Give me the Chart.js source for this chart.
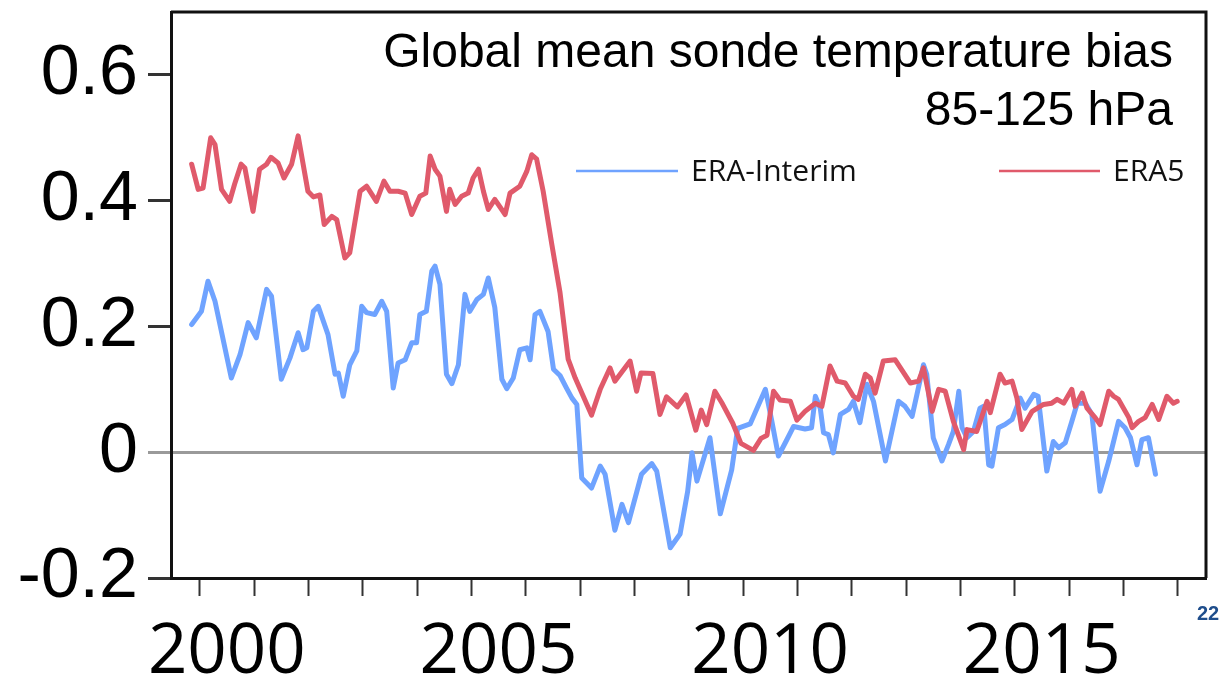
<!DOCTYPE html>
<html>
<head>
<meta charset="utf-8">
<script src="https://cdn.jsdelivr.net/npm/chart.js@4.4.1/dist/chart.umd.min.js"></script>
<style>
  html, body { margin: 0; padding: 0; background: #fff; }
  canvas { display: block; }
</style>
</head>
<body>
<canvas id="chart" width="1221" height="677"></canvas>
<script>
// values (decimal year, K)
const era5Years = [1999.85, 1999.97, 2000.06, 2000.20, 2000.28, 2000.40, 2000.55, 2000.64, 2000.76, 2000.83,
  2000.98, 2001.10, 2001.23, 2001.31, 2001.44, 2001.55, 2001.69, 2001.81, 2001.99, 2002.09,
  2002.21, 2002.29, 2002.43, 2002.52, 2002.67, 2002.76, 2002.95, 2003.07, 2003.25, 2003.39,
  2003.50, 2003.65, 2003.78, 2003.90, 2004.05, 2004.16, 2004.24, 2004.33, 2004.42, 2004.54,
  2004.60, 2004.70, 2004.82, 2004.94, 2005.03, 2005.13, 2005.22, 2005.31, 2005.43, 2005.62,
  2005.71, 2005.89, 2006.02, 2006.11, 2006.20, 2006.32, 2006.48, 2006.63, 2006.78, 2006.91,
  2007.21, 2007.37, 2007.55, 2007.64, 2007.92, 2008.04, 2008.12, 2008.34, 2008.47, 2008.59,
  2008.79, 2008.95, 2009.13, 2009.23, 2009.33, 2009.48, 2009.62, 2009.81, 2009.96, 2010.19,
  2010.33, 2010.44, 2010.56, 2010.68, 2010.87, 2010.99, 2011.14, 2011.33, 2011.45, 2011.60,
  2011.73, 2011.88, 2012.03, 2012.12, 2012.25, 2012.34, 2012.43, 2012.58, 2012.80, 2013.08,
  2013.23, 2013.32, 2013.48, 2013.60, 2013.72, 2013.87, 2014.06, 2014.12, 2014.30, 2014.49,
  2014.55, 2014.73, 2014.82, 2014.95, 2015.04, 2015.13, 2015.32, 2015.53, 2015.68, 2015.78,
  2015.90, 2016.05, 2016.11, 2016.24, 2016.33, 2016.48, 2016.57, 2016.73, 2016.82, 2016.91,
  2017.10, 2017.16, 2017.28, 2017.40, 2017.53, 2017.65, 2017.80, 2017.92, 2017.99];
const era5Values = [0.458, 0.418, 0.420, 0.500, 0.489, 0.418, 0.399, 0.426, 0.458, 0.452,
  0.383, 0.450, 0.458, 0.469, 0.460, 0.436, 0.458, 0.503, 0.415, 0.406,
  0.409, 0.362, 0.375, 0.370, 0.309, 0.317, 0.415, 0.423, 0.399, 0.431,
  0.415, 0.415, 0.412, 0.378, 0.407, 0.412, 0.471, 0.450, 0.439, 0.383,
  0.418, 0.394, 0.407, 0.412, 0.436, 0.450, 0.415, 0.386, 0.402, 0.378,
  0.412, 0.423, 0.447, 0.473, 0.466, 0.415, 0.330, 0.254, 0.148, 0.118,
  0.059, 0.100, 0.134, 0.113, 0.145, 0.097, 0.126, 0.125, 0.060, 0.088,
  0.072, 0.091, 0.035, 0.067, 0.044, 0.097, 0.077, 0.046, 0.014, 0.003,
  0.022, 0.027, 0.097, 0.083, 0.081, 0.051, 0.065, 0.078, 0.073, 0.137,
  0.113, 0.110, 0.089, 0.084, 0.124, 0.118, 0.094, 0.145, 0.147, 0.110,
  0.113, 0.134, 0.065, 0.100, 0.097, 0.049, 0.004, 0.036, 0.033, 0.081,
  0.063, 0.124, 0.110, 0.113, 0.086, 0.036, 0.065, 0.076, 0.078, 0.084,
  0.078, 0.100, 0.073, 0.094, 0.070, 0.055, 0.044, 0.097, 0.089, 0.084,
  0.055, 0.039, 0.049, 0.055, 0.076, 0.052, 0.089, 0.078, 0.081];

const interimYears = [1999.85, 2000.03, 2000.15, 2000.28, 2000.58, 2000.74, 2000.89, 2001.04, 2001.23, 2001.32,
  2001.50, 2001.66, 2001.81, 2001.90, 2001.97, 2002.09, 2002.18, 2002.36, 2002.49, 2002.55,
  2002.64, 2002.76, 2002.89, 2002.98, 2003.07, 2003.22, 2003.35, 2003.44, 2003.56, 2003.65,
  2003.78, 2003.90, 2003.99, 2004.05, 2004.17, 2004.27, 2004.33, 2004.42, 2004.54, 2004.64,
  2004.76, 2004.88, 2004.97, 2005.10, 2005.22, 2005.31, 2005.43, 2005.56, 2005.65, 2005.77,
  2005.89, 2006.02, 2006.08, 2006.17, 2006.26, 2006.41, 2006.51, 2006.63, 2006.75, 2006.85,
  2006.94, 2007.03, 2007.21, 2007.37, 2007.46, 2007.64, 2007.77, 2007.89, 2008.13, 2008.32,
  2008.41, 2008.66, 2008.84, 2008.98, 2009.06, 2009.15, 2009.39, 2009.58, 2009.79, 2009.90,
  2010.13, 2010.41, 2010.53, 2010.65, 2010.80, 2010.93, 2011.14, 2011.26, 2011.33, 2011.42,
  2011.48, 2011.57, 2011.66, 2011.79, 2011.94, 2012.03, 2012.15, 2012.28, 2012.40, 2012.62,
  2012.86, 2012.98, 2013.11, 2013.20, 2013.32, 2013.38, 2013.50, 2013.66, 2013.78, 2013.87,
  2013.97, 2014.03, 2014.12, 2014.24, 2014.36, 2014.43, 2014.52, 2014.58, 2014.70, 2014.82,
  2014.95, 2015.10, 2015.19, 2015.35, 2015.43, 2015.59, 2015.71, 2015.81, 2015.93, 2016.05,
  2016.15, 2016.30, 2016.42, 2016.57, 2016.73, 2016.91, 2017.03, 2017.13, 2017.25, 2017.34,
  2017.46, 2017.59];
const interimValues = [0.203, 0.224, 0.272, 0.240, 0.118, 0.155, 0.206, 0.182, 0.259, 0.248,
  0.116, 0.150, 0.190, 0.163, 0.166, 0.224, 0.232, 0.187, 0.124, 0.126,
  0.089, 0.139, 0.161, 0.232, 0.222, 0.219, 0.240, 0.224, 0.102, 0.142,
  0.147, 0.174, 0.174, 0.219, 0.224, 0.288, 0.296, 0.267, 0.124, 0.109,
  0.139, 0.251, 0.224, 0.243, 0.251, 0.277, 0.230, 0.116, 0.101, 0.118,
  0.163, 0.166, 0.147, 0.219, 0.224, 0.192, 0.132, 0.122, 0.102, 0.086,
  0.076, -0.041, -0.057, -0.022, -0.035, -0.124, -0.083, -0.112, -0.035, -0.018,
  -0.030, -0.152, -0.130, -0.062, -0.001, -0.046, 0.023, -0.098, -0.028, 0.038,
  0.045, 0.100, 0.049, -0.006, 0.019, 0.041, 0.037, 0.039, 0.089, 0.070,
  0.031, 0.028, -0.001, 0.060, 0.068, 0.081, 0.047, 0.108, 0.081, -0.014,
  0.081, 0.073, 0.057, 0.092, 0.139, 0.124, 0.023, -0.014, 0.012, 0.033,
  0.097, 0.039, 0.023, 0.033, 0.070, 0.073, -0.020, -0.022, 0.039, 0.044,
  0.052, 0.086, 0.070, 0.092, 0.089, -0.030, 0.017, 0.007, 0.015, 0.049,
  0.078, 0.078, 0.060, -0.062, -0.014, 0.049, 0.039, 0.023, -0.020, 0.020,
  0.023, -0.035];

const yearTicks = [2000, 2001, 2002, 2003, 2004, 2005, 2006, 2007, 2008, 2009,
  2010, 2011, 2012, 2013, 2014, 2015, 2016, 2017, 2018];
const biasTicks = [-0.2, 0, 0.2, 0.4, 0.6];
const seriesNames = ["ERA-Interim", "ERA5"];
const titleLines = ["Global mean sonde temperature bias", "85-125 hPa"];

const BLUE = "#6fa3ff";
const RED = "#e05a6b";

function toPoints(xs, ys) {
    return xs.map((x, i) => ({ x: x, y: ys[i] }));
}

// frame, title and legend drawn on top of the chart
const decorations = {
    id: "decorations",
    afterDraw(chart) {
        const ctx = chart.ctx;
        const area = chart.chartArea;
        ctx.save();

        // top + right frame
        ctx.strokeStyle = "#111";
        ctx.lineWidth = 3;
        ctx.beginPath();
        ctx.moveTo(area.left, area.top);
        ctx.lineTo(area.right, area.top);
        ctx.lineTo(area.right, area.bottom);
        ctx.stroke();

        // title
        ctx.fillStyle = "#000";
        ctx.font = "48px 'Liberation Sans', Arial, sans-serif";
        ctx.textAlign = "right";
        ctx.textBaseline = "alphabetic";
        ctx.fillText(titleLines[0], 1173, 67);
        ctx.fillText(titleLines[1], 1173, 125);

        // legend
        const legendItems = [
            { name: seriesNames[0], color: BLUE, x0: 576, x1: 678 },
            { name: seriesNames[1], color: RED, x0: 999, x1: 1100 }
        ];
        ctx.font = "30px 'Open Sans', sans-serif";
        ctx.textAlign = "left";
        ctx.textBaseline = "middle";
        legendItems.forEach(item => {
            ctx.strokeStyle = item.color;
            ctx.lineWidth = 2.5;
            ctx.beginPath();
            ctx.moveTo(item.x0, 171);
            ctx.lineTo(item.x1, 171);
            ctx.stroke();
            ctx.fillStyle = "#111";
            ctx.fillText(item.name, item.x1 + 13, 172);
        });

        // slide page number
        ctx.fillStyle = "#1f4e8c";
        ctx.font = "bold 20px 'Liberation Sans', Arial, sans-serif";
        ctx.textBaseline = "alphabetic";
        ctx.fillText("22", 1197, 620);

        ctx.restore();
    }
};

new Chart(document.getElementById("chart"), {
    type: "line",
    data: {
        datasets: [
            {
                label: seriesNames[0],
                data: toPoints(interimYears, interimValues),
                borderColor: BLUE,
                borderWidth: 5,
                order: 2
            },
            {
                label: seriesNames[1],
                data: toPoints(era5Years, era5Values),
                borderColor: RED,
                borderWidth: 5,
                order: 1
            }
        ]
    },
    options: {
        responsive: false,
        animation: false,
        parsing: false,
        layout: { padding: { top: 12, right: 15, left: 0, bottom: 0 } },
        elements: {
            point: { radius: 0 },
            line: { tension: 0, borderJoinStyle: "round", borderCapStyle: "round" }
        },
        plugins: {
            legend: { display: false },
            tooltip: { enabled: false }
        },
        scales: {
            x: {
                type: "linear",
                min: 1999.47,
                max: 2018.52,
                afterBuildTicks: scale => { scale.ticks = yearTicks.map(v => ({ value: v })); },
                afterFit: scale => {
                    scale.height = 99;
                    scale.paddingLeft = 0;
                    scale.paddingRight = 0;
                },
                border: { color: "#111", width: 3 },
                grid: {
                    drawOnChartArea: false,
                    tickLength: 18,
                    tickWidth: 2,
                    tickColor: "#333"
                },
                ticks: {
                    autoSkip: false,
                    maxRotation: 0,
                    labelOffset: 27,
                    padding: 16,
                    color: "#000",
                    font: { family: "'Open Sans', sans-serif", size: 69 },
                    callback: v => (v % 5 === 0 && v < 2018) ? String(v) : ""
                }
            },
            y: {
                min: -0.2,
                max: 0.7,
                afterBuildTicks: scale => { scale.ticks = biasTicks.map(v => ({ value: v })); },
                afterFit: scale => {
                    scale.width = 171;
                    scale.paddingTop = 0;
                    scale.paddingBottom = 0;
                },
                border: { color: "#111", width: 3 },
                grid: {
                    color: c => (c.tick && c.tick.value === 0) ? "#9a9a9a" : "rgba(0,0,0,0)",
                    lineWidth: 3,
                    tickLength: 23,
                    tickWidth: 3,
                    tickColor: c => (c.tick && c.tick.value === 0) ? "#9a9a9a" : "#333"
                },
                ticks: {
                    padding: 10,
                    color: "#000",
                    font: { family: "'Liberation Sans', Arial, sans-serif", size: 70 },
                    callback: v => v === 0 ? "0" : v.toFixed(1)
                }
            }
        }
    },
    plugins: [decorations]
});
</script>
</body>
</html>
